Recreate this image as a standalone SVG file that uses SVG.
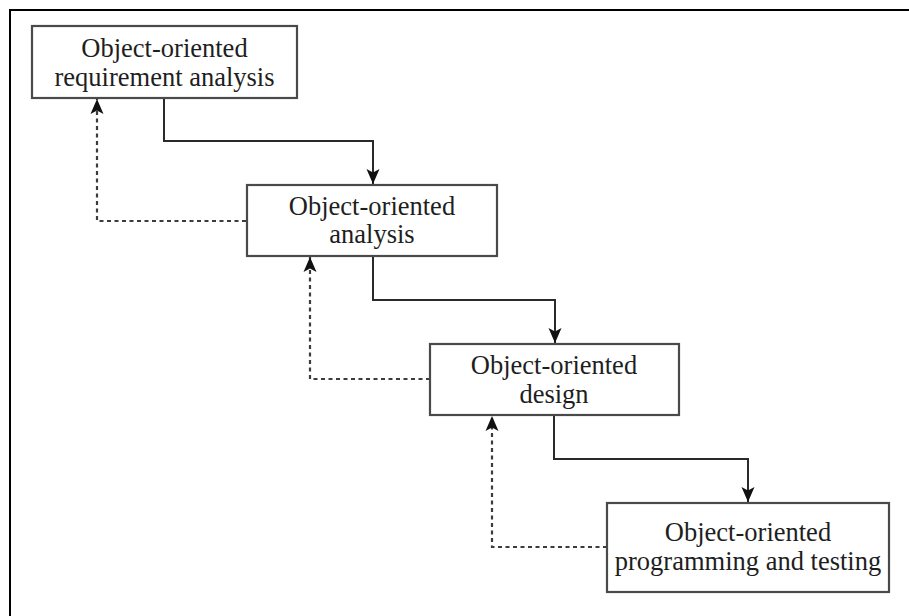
<svg xmlns="http://www.w3.org/2000/svg" width="909" height="616" viewBox="0 0 909 616">
  <style>
    .box { fill: #ffffff; stroke: #4a4a4a; stroke-width: 2.2; }
    .label { font-family: "Liberation Serif", "Times New Roman", serif; font-size: 26.5px; fill: #1e1e1e; text-anchor: middle; }
    .flow { fill: none; stroke: #2a2a2a; stroke-width: 2; marker-end: url(#arrow); }
    .back { fill: none; stroke: #3c3c3c; stroke-width: 2.2; stroke-dasharray: 4 3.5; marker-end: url(#arrow); }
  </style>
  <defs>
    <marker id="arrow" markerUnits="userSpaceOnUse" viewBox="0 0 16 16" markerWidth="16" markerHeight="16" refX="15" refY="8" orient="auto">
      <path d="M0,1.5 L15,8 L0,14.5 L3.5,8 Z" fill="#111111"/>
    </marker>
  </defs>

  <rect width="909" height="616" fill="#ffffff"/>
  <!-- page frame -->
  <polyline points="10,616 10,10 909,10" fill="none" stroke="#000000" stroke-width="2"/>

  <g id="connectors">
    <path class="flow" d="M164,98 V141 H373 V184"/>
    <path class="flow" d="M373,256 V300 H555 V343"/>
    <path class="flow" d="M554,415 V459 H748 V502"/>
    <path class="back" d="M246,221 H97 V99"/>
    <path class="back" d="M430,379 H310 V257"/>
    <path class="back" d="M607,547 H492 V416"/>
  </g>

  <g id="requirement-analysis">
    <rect class="box" x="32" y="26" width="265" height="72"/>
    <text class="label" x="164.5" y="57">Object-oriented</text>
    <text class="label" x="164.5" y="86">requirement analysis</text>
  </g>

  <g id="analysis">
    <rect class="box" x="247" y="185" width="250" height="71"/>
    <text class="label" x="372" y="215">Object-oriented</text>
    <text class="label" x="372" y="243">analysis</text>
  </g>

  <g id="design">
    <rect class="box" x="430" y="344" width="249" height="71"/>
    <text class="label" x="554" y="374">Object-oriented</text>
    <text class="label" x="554" y="403">design</text>
  </g>

  <g id="programming-testing">
    <rect class="box" x="607" y="503" width="282" height="89"/>
    <text class="label" x="748" y="541">Object-oriented</text>
    <text class="label" x="748" y="570">programming and testing</text>
  </g>
</svg>
